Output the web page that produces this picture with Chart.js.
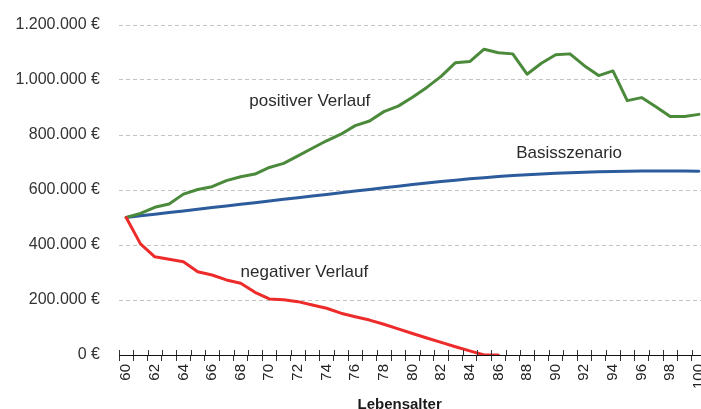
<!DOCTYPE html>
<html>
<head>
<meta charset="utf-8">
<script src="https://cdn.jsdelivr.net/npm/chart.js@4/dist/chart.umd.min.js"></script>
<style>
  html, body { margin: 0; padding: 0; overflow: hidden; background: #fff; }
  canvas { display: block; }
</style>
</head>
<body>
<canvas id="c" width="706" height="409"></canvas>
<script>
// Lebensalter 60..100
const ages = [];
for (let a = 60; a <= 100; a++) ages.push(String(a));

const positiverVerlauf = [
  500000, 515000, 537000, 549000, 585000, 602000, 612000, 634000, 648000, 658000,
  682000, 697000, 724000, 752000, 779000, 803000, 834000, 851000, 885000, 905000,
  937000, 973000, 1013000, 1063000, 1067000, 1112000, 1099000, 1095000, 1021000, 1061000,
  1092000, 1095000, 1052000, 1016000, 1033000, 925000, 936000, 903000, 867000, 867000,
  875000
];

const basisszenario = [
  500000, 506000, 512000, 518000, 524000, 530000, 536000, 542000, 548000, 554000,
  560000, 566000, 572000, 578000, 584000, 590000, 596000, 602000, 608000, 614000,
  620000, 625500, 630800, 635800, 640500, 644800, 648800, 652400, 655600, 658400,
  660900, 663000, 664800, 666300, 667500, 668400, 669000, 669300, 669300, 669000,
  668400
];

const negativerVerlauf = [
  500000, 404000, 357000, 348000, 339000, 303000, 291000, 273000, 261000, 228000,
  204000, 201000, 194000, 182000, 170000, 152000, 139000, 127000, 112000, 95000,
  78000, 62000, 46000, 30000, 15000, 0, 0, null, null, null,
  null, null, null, null, null, null, null, null, null, null,
  null
];

const yTicks = [0, 200000, 400000, 600000, 800000, 1000000, 1200000];

const annotations = [
  { text: 'positiver Verlauf', x: 12.83, y: 921000 },
  { text: 'Basisszenario', x: 30.94, y: 734500 },
  { text: 'negativer Verlauf', x: 12.45, y: 301800 }
];

const axisTitle = { text: 'Lebensalter', x: 19.1 };

function fmtEuro(v) {
  return String(v).replace(/\B(?=(\d{3})+(?!\d))/g, '.') + ' €';
}

const extrasPlugin = {
  id: 'extras',
  afterDraw(chart) {
    const ctx = chart.ctx;
    const xs = chart.scales.x, ys = chart.scales.y;
    ctx.save();
    const step = xs.getPixelForValue(1) - xs.getPixelForValue(0);
    ctx.strokeStyle = '#333';
    ctx.lineWidth = 1;
    ctx.beginPath();
    for (let i = 0; i <= ages.length; i++) {
      const px = Math.round(xs.getPixelForValue(i) - step / 2) + 0.5;
      ctx.moveTo(px, xs.top - 5);
      ctx.lineTo(px, xs.top);
    }
    ctx.stroke();
    ctx.fillStyle = '#2b2b2b';
    ctx.font = '17px "Liberation Sans", Arial, sans-serif';
    ctx.textAlign = 'center';
    ctx.textBaseline = 'middle';
    annotations.forEach(a => {
      ctx.fillText(a.text, xs.getPixelForValue(a.x), ys.getPixelForValue(a.y));
    });
    ctx.fillStyle = '#1a1a1a';
    ctx.font = 'bold 15px "Liberation Sans", Arial, sans-serif';
    ctx.textBaseline = 'alphabetic';
    ctx.fillText(axisTitle.text, xs.getPixelForValue(axisTitle.x), chart.height - 0.5);
    ctx.restore();
  }
};

new Chart(document.getElementById('c'), {
  type: 'line',
  data: {
    labels: ages,
    datasets: [
      { label: 'negativer Verlauf', data: negativerVerlauf, borderColor: '#ee2b2b' },
      { label: 'positiver Verlauf', data: positiverVerlauf, borderColor: '#4b8a3b' },
      { label: 'Basisszenario', data: basisszenario, borderColor: '#2d5c9d' }
    ].map(d => Object.assign(d, {
      borderWidth: 3, pointRadius: 0, pointHoverRadius: 0, tension: 0,
      fill: false, spanGaps: false, borderCapStyle: 'round', borderJoinStyle: 'round'
    }))
  },
  options: {
    responsive: false,
    animation: false,
    devicePixelRatio: 1,
    events: [],
    layout: { padding: { top: 25, left: 0, right: 0, bottom: 0 } },
    plugins: { legend: { display: false }, tooltip: { enabled: false }, title: { display: false } },
    scales: {
      x: {
        type: 'category',
        offset: true,
        afterFit: s => { s.height = 54; s.paddingLeft = 0; s.paddingRight = 0; },
        grid: { display: true, offset: true, drawOnChartArea: false, drawTicks: true, tickLength: 6, color: '#333', tickColor: '#333' },
        border: { display: true, color: '#111', width: 1 },
        ticks: {
          autoSkip: false, minRotation: 90, maxRotation: 90, padding: 3,
          color: '#222', font: { family: '"Liberation Sans", Arial, sans-serif', size: 15 },
          callback: function (v, i) { const l = ages[i]; return (Number(l) % 2 === 0) ? l : ''; }
        }
      },
      y: {
        min: 0, max: 1200000,
        afterFit: s => { s.width = 119; s.paddingTop = 0; s.paddingBottom = 0; },
        afterBuildTicks: s => { s.ticks = yTicks.map(v => ({ value: v })); },
        grid: { display: true, drawTicks: false, color: '#c4c4c4', lineWidth: 1 },
        border: { display: false, dash: [4, 3] },
        ticks: {
          padding: 19, color: '#333',
          font: { family: '"Liberation Sans", Arial, sans-serif', size: 16 },
          callback: v => fmtEuro(v)
        }
      }
    }
  },
  plugins: [extrasPlugin]
});
</script>
</body>
</html>
